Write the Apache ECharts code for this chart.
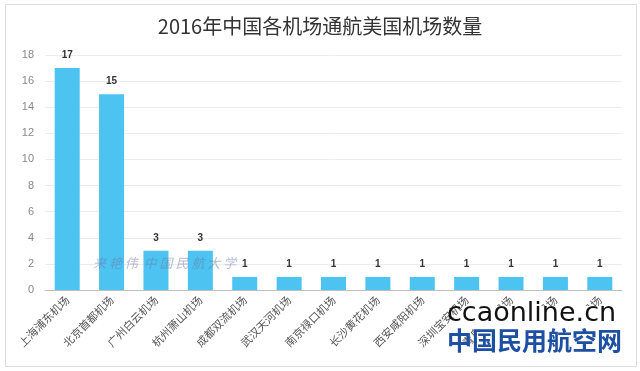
<!DOCTYPE html>
<html>
<head>
<meta charset="utf-8">
<script src="https://cdn.jsdelivr.net/npm/echarts@6/dist/echarts.min.js"></script>
<style>html,body{margin:0;padding:0;background:#fff}#c{width:640px;height:371px}</style>
</head>
<body>
<div id="c"></div>
<script>
var titleText = '2016年中国各机场通航美国机场数量';
var categories = ['上海浦东机场','北京首都机场','广州白云机场','杭州萧山机场','成都双流机场','武汉天河机场','南京禄口机场','长沙黄花机场','西安咸阳机场','深圳宝安机场','青岛流亭机场','重庆江北机场','厦门高崎机场'];
var values = [17, 15, 3, 3, 1, 1, 1, 1, 1, 1, 1, 1, 1];
var yTicks = {min: 0, max: 18, interval: 2};

var chart = echarts.init(document.getElementById('c'));
var cjk = '"Noto Sans CJK SC", "Noto Sans", sans-serif';
chart.setOption({
  animation: false,
  backgroundColor: '#fff',
  title: {
    text: titleText, left: 'center', top: 11,
    textStyle: {fontSize: 20, fontWeight: 'normal', color: '#333', fontFamily: cjk}
  },
  grid: {left: 45, right: 18, top: 55, bottom: 81},
  xAxis: {
    type: 'category', data: categories,
    axisLine: {lineStyle: {color: '#bfbfbf', width: 1}},
    axisTick: {show: false},
    axisLabel: {rotate: 45, interval: 0, color: '#555', fontSize: 11, fontFamily: cjk, margin: 8}
  },
  yAxis: {
    type: 'value', min: yTicks.min, max: yTicks.max, interval: yTicks.interval,
    axisLine: {show: false}, axisTick: {show: false},
    axisLabel: {color: '#888', fontSize: 11, margin: 11},
    splitLine: {lineStyle: {color: '#ececec'}}
  },
  series: [{
    type: 'bar', data: values, barWidth: 25,
    itemStyle: {color: '#4cc3f0'},
    label: {show: true, position: 'top', color: '#333', fontSize: 10, fontWeight: 'bold', distance: 8}
  }],
  graphic: [
    {type: 'rect', shape: {x: 5.5, y: 4.5, width: 631, height: 362}, style: {fill: 'none', stroke: '#dcdcdc', lineWidth: 1}, z: -1},
    {type: 'text', left: 93, top: 257, z: 100, style: {text: '来 艳 伟  中 国 民 航 大 学', fill: 'rgba(110,120,170,0.5)', font: 'italic 13px "Noto Sans CJK SC", serif'}},
    {type: 'rect', z: 99, shape: {x: 474, y: 306, width: 150, height: 48}, style: {fill: '#fff'}},
    {type: 'text', left: 447, top: 300, z: 100, style: {text: 'ccaonline.cn', fill: '#111', font: '27px "DejaVu Sans", sans-serif'}},
    {type: 'text', left: 447, top: 328, z: 100, style: {text: '中国民用航空网', fill: '#1d4fa3', font: 'bold 25px "Noto Sans CJK SC", sans-serif'}}
  ]
});
</script>
</body>
</html>
